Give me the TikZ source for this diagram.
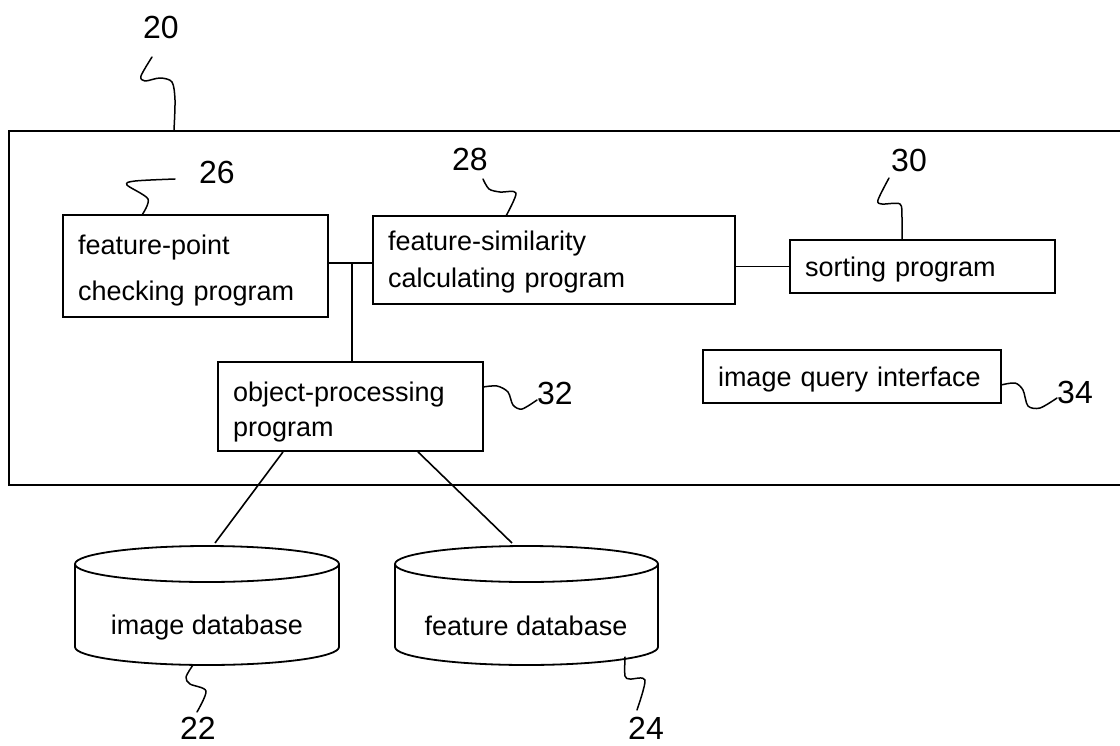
\documentclass[tikz,border=0pt]{standalone}
\usepackage{fontspec}
\setmainfont{Liberation Sans}
\usetikzlibrary{calc}
\tikzset{
  box/.style={draw, line width=1.8pt, rectangle, inner xsep=15pt, inner ysep=0pt, align=left, font=\fontsize{27}{37}\selectfont},
  num/.style={font=\fontsize{32}{36}\selectfont, inner sep=0pt},
  lead/.style={line width=1.5pt, line join=round, line cap=round},
  wire/.style={line width=1.6pt},
  dbtext/.style={font=\fontsize{27}{32}\selectfont, inner sep=0pt},
  cyl/.style={line width=1.8pt},
}
\begin{document}
\begin{tikzpicture}[x=1pt,y=-1pt]
\useasboundingbox (0,0) rectangle (1120,745);

% outer system frame (20)
\node[draw, line width=1.8pt, minimum width=1140pt, minimum height=354pt, anchor=north west, inner sep=0pt] (sys) at (8,130) {};

% program boxes
\node[box, text width=235pt, minimum height=102pt, text depth=42.7pt, font=\fontsize{27}{46}\selectfont] (b26) at (195.5,266) {feature-point\\checking program};
\node[box, text width=332pt, minimum height=88pt, text depth=37.7pt] (b28) at (554,260) {feature-similarity\\calculating program};
\node[box, text width=235pt, minimum height=53pt, text depth=-2pt] (b30) at (922.5,266.5) {sorting program};
\node[box, text width=268pt, minimum height=53pt, text depth=-2pt] (b34) at (852,376.5) {image query interface};
\node[box, text width=235pt, minimum height=89pt, text depth=28.7pt, font=\fontsize{27}{35}\selectfont] (b32) at (350.5,406.5) {object-processing\\program};

% connections
\coordinate (j) at (352,263);
\draw[wire] (b26.east |- j) -- (b28.west |- j);
\draw[wire] (j) -- (j |- b32.north);
\draw[wire] (b30.west) -- (b30.west -| b28.east);

% databases
\node[dbtext] (db22) at (207,628) {image database};
\draw[cyl] (207,564) ellipse [x radius=132pt, y radius=18pt];
\draw[cyl] (75,564) -- (75,647) arc[start angle=180, end angle=360, x radius=132pt, y radius=18pt] -- (339,564);
\coordinate (c22) at (215,543);

\node[dbtext] (db24) at (526,626) {feature database};
\draw[cyl] (526.5,564) ellipse [x radius=131.5pt, y radius=18pt];
\draw[cyl] (395,564) -- (395,647) arc[start angle=180, end angle=360, x radius=131.5pt, y radius=18pt] -- (658,564);
\coordinate (c24) at (512,543);

\draw[wire] ($(b32.south)+(-67.5,0)$) -- (c22);
\draw[wire] ($(b32.south)+(67.5,0)$) -- (c24);

% reference numerals
\node[num] (l20) at (161,27) {20};
\node[num] (l26) at (217,172) {26};
\node[num] (l28) at (470,159) {28};
\node[num] (l30) at (909,160) {30};
\node[num] (l32) at (555,393) {32};
\node[num] (l34) at (1075,392) {34};
\node[num] (l22) at (198,728) {22};
\node[num] (l24) at (646,728) {24};

% lead lines
\draw[lead] plot[smooth, tension=0.5] coordinates {(152,57) (141,76) (145,81) (160,78) (172,82) (175,100) (174,130)};
\draw[lead] plot[smooth, tension=0.5] coordinates {(175,179) (135,181) (127,185) (148,199) (142,215)};
\draw[lead] plot[smooth, tension=0.5] coordinates {(483,179) (489,189) (500,192) (516,193) (506,216)};
\draw[lead] plot[smooth, tension=0.5] coordinates {(889,178) (878,200) (882,204) (900,204) (902,218) (902,240)};
\draw[lead] plot[smooth, tension=0.5] coordinates {(1001,385) (1015,383) (1023,390) (1028,406) (1040,408) (1057,398)};
\draw[lead] plot[smooth, tension=0.5] coordinates {(483,387) (497,386) (508,392) (513,405) (522,409) (537,400)};
\draw[lead] plot[smooth, tension=0.5] coordinates {(193,665) (186,677) (190,684) (206,691) (197,712)};
\draw[lead] plot[smooth, tension=0.5] coordinates {(625,657) (625,676) (630,679) (645,680) (637,710)};
\end{tikzpicture}
\end{document}
